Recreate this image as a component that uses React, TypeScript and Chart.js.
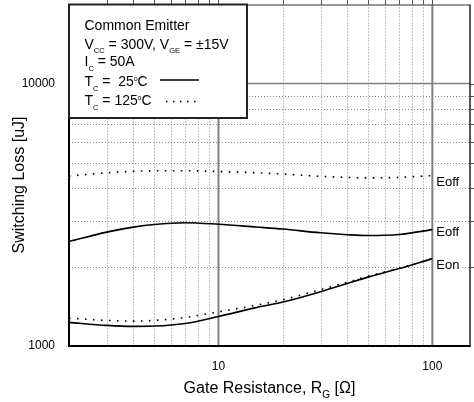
import React, { useEffect, useRef } from 'react';
import { Chart, registerables } from 'chart.js';

Chart.register(...registerables);

// ---------- data ----------
const rgValues = [2, 3, 4, 5, 7, 10, 15, 20, 30, 40, 50, 70, 100];
const eoff25 = [2502, 2716, 2837, 2904, 2950, 2910, 2840, 2790, 2700, 2655, 2635, 2660, 2775];
const eon25 = [1230, 1198, 1188, 1191, 1219, 1296, 1400, 1470, 1610, 1730, 1830, 1972, 2152];
const eoff125 = [4440, 4570, 4630, 4650, 4655, 4620, 4570, 4520, 4430, 4390, 4370, 4390, 4460];
const eon125 = [1277, 1252, 1244, 1252, 1285, 1349, 1430, 1500, 1640, 1750, 1845, 1978, 2152];

const xRange = [2, 150];
const yRange = [1000, 20000];
const xTickValues = [10, 100];
const yTickValues = [1000, 10000];
const xMajorGrid = [10, 100];
const yMajorGrid = [10000];
const xMinorGrid = [3, 4, 5, 6, 7, 8, 9, 20, 30, 40, 50, 60, 70, 80, 90];
const yMinorGrid = [2000, 3000, 4000, 5000, 6000, 7000, 8000, 9000];

const curveLabels = ['Eoff', 'Eoff', 'Eon'];
const curveLabelValues = [4230, 2730, 2030];

const FONT = '"Liberation Sans", Arial, Helvetica, sans-serif';

type Seg = { t: string; sub?: boolean; sup?: boolean };

function drawRich(ctx: CanvasRenderingContext2D, segs: Seg[], x: number, y: number, size: number, subSize: number, supSize: number, align: 'left' | 'center') {
  const fontFor = (s: Seg) => `${s.sub ? subSize : s.sup ? supSize : size}px ${FONT}`;
  let total = 0;
  for (const s of segs) {
    ctx.font = fontFor(s);
    total += ctx.measureText(s.t).width;
  }
  let cx = align === 'center' ? x - total / 2 : x;
  ctx.textAlign = 'left';
  ctx.textBaseline = 'alphabetic';
  for (const s of segs) {
    ctx.font = fontFor(s);
    const dy = s.sub ? size * 0.32 : s.sup ? -size * 0.4 : 0;
    ctx.fillText(s.t, cx, y + dy);
    cx += ctx.measureText(s.t).width;
  }
  return total;
}

const customPlugin = {
  id: 'customDraw',
  beforeDatasetsDraw(chart: any) {
    const { ctx, chartArea: a, scales } = chart;
    const x = scales.x;
    const y = scales.y;
    ctx.save();
    // minor grid
    ctx.strokeStyle = '#8a8a8a';
    ctx.lineWidth = 1;
    ctx.setLineDash([1, 2]);
    for (const v of xMinorGrid) {
      const px = Math.round(x.getPixelForValue(v)) + 0.5;
      ctx.beginPath();
      ctx.moveTo(px, a.top);
      ctx.lineTo(px, a.bottom);
      ctx.stroke();
    }
    for (const v of yMinorGrid) {
      const py = Math.round(y.getPixelForValue(v)) + 0.5;
      ctx.beginPath();
      ctx.moveTo(a.left, py);
      ctx.lineTo(a.right, py);
      ctx.stroke();
    }
    ctx.setLineDash([]);
    // major grid
    ctx.strokeStyle = '#808080';
    ctx.lineWidth = 2;
    for (const v of xMajorGrid) {
      const px = x.getPixelForValue(v);
      ctx.beginPath();
      ctx.moveTo(px, a.top);
      ctx.lineTo(px, a.bottom);
      ctx.stroke();
    }
    ctx.lineWidth = 1.5;
    for (const v of yMajorGrid) {
      const py = y.getPixelForValue(v);
      ctx.beginPath();
      ctx.moveTo(a.left, py);
      ctx.lineTo(a.right, py);
      ctx.stroke();
    }
    ctx.restore();
  },
  afterDatasetsDraw(chart: any) {
    const { ctx, chartArea: a, scales } = chart;
    const x = scales.x;
    const y = scales.y;
    ctx.save();

    // outward ticks on top and right
    ctx.strokeStyle = '#555';
    ctx.lineWidth = 1;
    for (const v of [...xMinorGrid, ...xMajorGrid]) {
      const px = Math.round(x.getPixelForValue(v)) + 0.5;
      ctx.beginPath();
      ctx.moveTo(px, 0);
      ctx.lineTo(px, a.top);
      ctx.stroke();
    }
    for (const v of [...yMinorGrid, ...yMajorGrid]) {
      const py = Math.round(y.getPixelForValue(v)) + 0.5;
      ctx.beginPath();
      ctx.moveTo(a.right, py);
      ctx.lineTo(a.right + 4, py);
      ctx.stroke();
    }

    // plot border
    ctx.strokeStyle = '#333';
    ctx.lineWidth = 1;
    ctx.beginPath();
    ctx.moveTo(a.left, a.top + 0.5);
    ctx.lineTo(a.right, a.top + 0.5);
    ctx.stroke();
    ctx.strokeStyle = '#222';
    ctx.lineWidth = 1.5;
    ctx.beginPath();
    ctx.moveTo(a.right, a.top);
    ctx.lineTo(a.right, a.bottom);
    ctx.stroke();
    ctx.strokeStyle = '#000';
    ctx.lineWidth = 2;
    ctx.beginPath();
    ctx.moveTo(a.left, a.top);
    ctx.lineTo(a.left, a.bottom);
    ctx.lineTo(a.right + 0.75, a.bottom);
    ctx.stroke();

    // curve labels
    ctx.font = `13px ${FONT}`;
    ctx.textBaseline = 'middle';
    ctx.textAlign = 'left';
    const lx = x.getPixelForValue(100) + 4;
    curveLabels.forEach((t, i) => {
      const py = y.getPixelForValue(curveLabelValues[i]);
      const w = ctx.measureText(t).width;
      ctx.fillStyle = '#fff';
      ctx.fillRect(lx - 1, py - 7, w + 2, 14);
      ctx.fillStyle = '#000';
      ctx.fillText(t, lx, py + 0.5);
    });

    // legend box
    const bx = a.left, by = a.top, bw = 247 - a.left, bh = 118 - a.top;
    ctx.fillStyle = '#fff';
    ctx.fillRect(bx, by, bw, bh);
    ctx.strokeStyle = '#222';
    ctx.lineWidth = 2;
    ctx.strokeRect(bx, by, bw, bh);

    ctx.fillStyle = '#000';
    const tx = 84.5;
    const S = 14, SUB = 7.5, SUP = 6.5;
    drawRich(ctx, [{ t: 'Common Emitter' }], tx, 29.7, S, SUB, SUP, 'left');
    drawRich(ctx, [
      { t: 'V' }, { t: 'CC', sub: true }, { t: ' = 300V, V' }, { t: 'GE', sub: true }, { t: ' = \u00b115V' },
    ], tx, 48.7, S, SUB, SUP, 'left');
    drawRich(ctx, [{ t: 'I' }, { t: 'C', sub: true }, { t: ' = 50A' }], tx, 66.3, S, SUB, SUP, 'left');
    drawRich(ctx, [{ t: 'T' }, { t: 'C', sub: true }, { t: ' =  25' }, { t: 'o', sup: true }, { t: 'C' }], tx, 86.3, S, SUB, SUP, 'left');
    drawRich(ctx, [{ t: 'T' }, { t: 'C', sub: true }, { t: ' = 125' }, { t: 'o', sup: true }, { t: 'C' }], tx, 105.3, S, SUB, SUP, 'left');

    // legend samples
    ctx.strokeStyle = '#000';
    ctx.lineWidth = 1.5;
    ctx.beginPath();
    ctx.moveTo(160, 80);
    ctx.lineTo(199, 80);
    ctx.stroke();
    ctx.setLineDash([1.5, 5.5]);
    ctx.beginPath();
    ctx.moveTo(166, 101.5);
    ctx.lineTo(196, 101.5);
    ctx.stroke();
    ctx.setLineDash([]);

    // axis titles
    ctx.fillStyle = '#000';
    drawRich(ctx, [{ t: 'Gate Resistance, R' }, { t: 'G', sub: true }, { t: ' [\u03a9]' }], (a.left + a.right) / 2, 393.3, 16, 10, 10, 'center');
    ctx.save();
    ctx.translate(24, 185);
    ctx.rotate(-Math.PI / 2);
    drawRich(ctx, [{ t: 'Switching Loss [uJ]' }], 0, 0, 16, 10, 10, 'center');
    ctx.restore();

    ctx.restore();
  },
};

const toPts = (ys: number[]) => rgValues.map((xv, i) => ({ x: xv, y: ys[i] }));

export default function App() {
  const ref = useRef<HTMLCanvasElement | null>(null);
  useEffect(() => {
    document.body.style.margin = '0';
    const canvas = ref.current;
    if (!canvas) return;
    const solid = { borderColor: '#000', borderWidth: 1.6, pointRadius: 0, cubicInterpolationMode: 'monotone' as const, fill: false };
    const dotted = { ...solid, borderWidth: 1.6, borderDash: [1.6, 6.4] };
    const chart = new Chart(canvas, {
      type: 'line',
      data: {
        datasets: [
          { label: 'Eoff 125', data: toPts(eoff125), ...dotted },
          { label: 'Eon 125', data: toPts(eon125), ...dotted },
          { label: 'Eoff 25', data: toPts(eoff25), ...solid },
          { label: 'Eon 25', data: toPts(eon25), ...solid },
        ],
      },
      options: {
        animation: false,
        responsive: false,
        devicePixelRatio: 1,
        layout: { padding: { top: 4.5, right: 4, left: 0, bottom: 0 } },
        plugins: { legend: { display: false }, tooltip: { enabled: false }, title: { display: false } },
        scales: {
          x: {
            type: 'logarithmic',
            min: xRange[0],
            max: xRange[1],
            grid: { display: false, drawTicks: false, tickLength: 0 },
            border: { display: false },
            ticks: {
              autoSkip: false,
              maxRotation: 0,
              padding: 13,
              color: '#000',
              font: { size: 12, family: FONT },
              callback: (v: any) => String(v),
            },
            afterBuildTicks: (s: any) => { s.ticks = xTickValues.map((v) => ({ value: v })); },
            afterFit: (s: any) => { s.height = 56; s.paddingLeft = 0; s.paddingRight = 0; s.paddingTop = 0; s.paddingBottom = 0; },
          },
          y: {
            type: 'logarithmic',
            min: yRange[0],
            max: yRange[1],
            grid: { display: false, drawTicks: false, tickLength: 0 },
            border: { display: false },
            ticks: {
              autoSkip: false,
              padding: 14,
              color: '#000',
              font: { size: 12, family: FONT },
              callback: (v: any) => String(v),
            },
            afterBuildTicks: (s: any) => { s.ticks = yTickValues.map((v) => ({ value: v })); },
            afterFit: (s: any) => { s.width = 69; s.paddingLeft = 0; s.paddingRight = 0; s.paddingTop = 0; s.paddingBottom = 0; },
          },
        },
      },
      plugins: [customPlugin],
    });
    return () => chart.destroy();
  }, []);
  return <canvas ref={ref} width={474} height={402} style={{ display: 'block' }} />;
}
